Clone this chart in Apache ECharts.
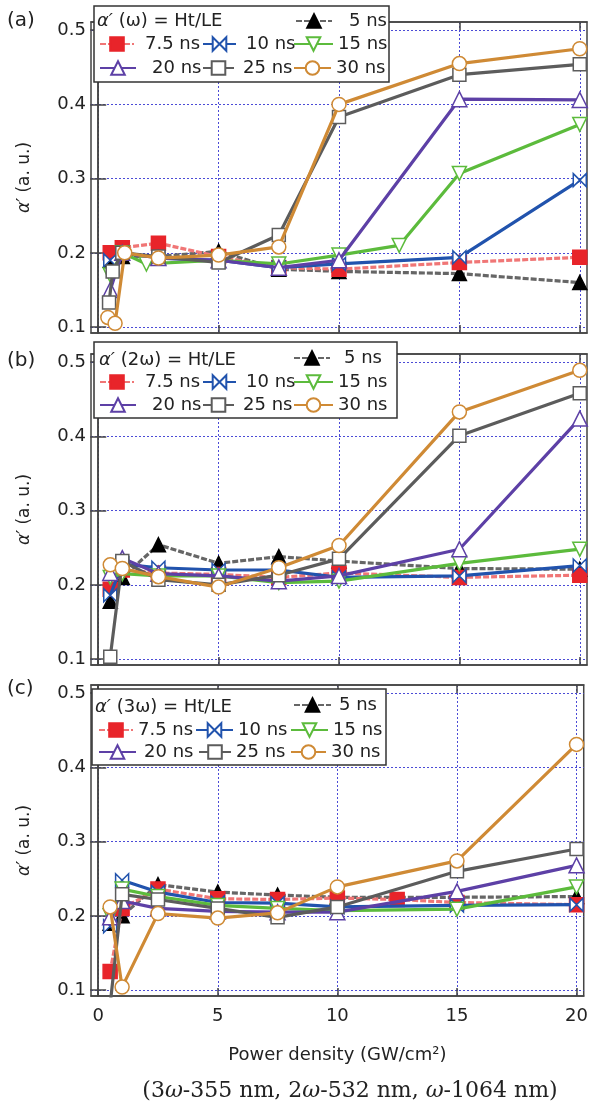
<!DOCTYPE html>
<html><head><meta charset="utf-8">
<script src="https://cdn.jsdelivr.net/npm/echarts@6/dist/echarts.min.js"></script>
<style>html,body{margin:0;padding:0;background:#fff}#c{width:591px;height:1105px}</style>
</head><body><div id="c"></div>
<script>
// ---------- data ----------
const seriesNames = ['5 ns','7.5 ns','10 ns','15 ns','20 ns','25 ns','30 ns'];
const xTicks = [0,5,10,15,20];
const yTicks = [0.1,0.2,0.3,0.4,0.5];
const panelLabels = ['(a)','(b)','(c)'];
const panelHarmonics = ['ω','2ω','3ω'];
const xName = 'Power density (GW/cm²)';
const caption = '(3{i|ω}-355 nm, 2{i|ω}-532 nm, {i|ω}-1064 nm)';

// panel (a)  alpha'(ω)
const a5  = [[0.5,0.19],[1,0.195],[2.5,0.195],[5,0.202],[7.5,0.178],[10,0.175],[15,0.172],[20,0.16]];
const a75 = [[0.5,0.2],[1,0.207],[2.5,0.213],[5,0.195],[7.5,0.18],[10,0.178],[15,0.187],[20,0.194]];
const a10 = [[0.5,0.19],[1,0.2],[2.5,0.193],[5,0.19],[7.5,0.18],[10,0.185],[15,0.194],[20,0.298]];
const a15 = [[0.5,0.17],[1,0.2],[2,0.185],[5,0.19],[7.5,0.185],[10,0.197],[12.5,0.21],[15,0.307],[20,0.373]];
const a20 = [[0.5,0.15],[1,0.2],[2.5,0.193],[5,0.19],[7.5,0.18],[10,0.19],[15,0.407],[20,0.406]];
const a25 = [[0.45,0.133],[0.6,0.175],[1,0.2],[2.5,0.195],[5,0.187],[7.5,0.224],[10,0.383],[15,0.44],[20,0.454]];
const a30 = [[0.4,0.113],[0.7,0.105],[1.1,0.2],[2.5,0.193],[5,0.197],[7.5,0.208],[10,0.4],[15,0.455],[20,0.475]];

// panel (b)  alpha'(2ω)
const b5  = [[0.5,0.178],[1,0.21],[2.5,0.254],[5,0.229],[7.5,0.238],[10,0.232],[15,0.222],[20,0.221]];
const b75 = [[0.5,0.194],[1,0.22],[2.5,0.216],[5,0.214],[7.5,0.21],[10,0.216],[15,0.21],[20,0.213]];
const b10 = [[0.5,0.186],[1,0.228],[2.5,0.223],[5,0.22],[7.5,0.22],[10,0.21],[15,0.212],[20,0.226]];
const b15 = [[0.5,0.21],[1,0.215],[2.5,0.212],[5,0.212],[7.5,0.203],[10,0.205],[15,0.229],[20,0.248]];
const b20 = [[0.5,0.216],[1,0.236],[2.5,0.215],[5,0.212],[7.5,0.205],[10,0.212],[15,0.248],[20,0.424]];
const b25 = [[0.5,0.103],[1,0.232],[2.5,0.207],[5,0.2],[7.5,0.213],[10,0.235],[15,0.401],[20,0.458]];
const b30 = [[0.5,0.227],[1,0.222],[2.5,0.211],[5,0.197],[7.5,0.223],[10,0.253],[15,0.433],[20,0.489]];

// panel (c)  alpha'(3ω)
const c5  = [[0.5,0.19],[1,0.2],[2.5,0.242],[5,0.232],[7.5,0.228],[10,0.225],[15,0.225],[20,0.226]];
const c75 = [[0.5,0.125],[1,0.21],[2.5,0.236],[5,0.223],[7.5,0.222],[10,0.224],[12.5,0.222],[15,0.218],[20,0.215]];
const c10 = [[0.5,0.186],[1,0.248],[2.5,0.232],[5,0.218],[7.5,0.217],[10,0.212],[15,0.214],[20,0.215]];
const c15 = [[0.5,0.2],[1,0.236],[2.5,0.226],[5,0.214],[7.5,0.21],[10,0.207],[15,0.209],[20,0.239]];
const c20 = [[0.5,0.198],[1,0.22],[2.5,0.21],[5,0.206],[7.5,0.205],[10,0.205],[15,0.233],[20,0.268]];
const c25 = [[0.5,0.08],[1,0.229],[2.5,0.222],[5,0.21],[7.5,0.198],[10,0.212],[15,0.26],[20,0.29]];
const c30 = [[0.5,0.212],[1,0.104],[2.5,0.203],[5,0.197],[7.5,0.204],[10,0.239],[15,0.274],[20,0.431]];

// ---------- styles / layout ----------
const FONT = 'DejaVu Sans';
const bowtie = 'path://M0,0L5,5L0,10Z M10,0L5,5L10,10Z';
const styles = [
  {line:'#666666', dash:[6,2], symbol:'triangle', fill:'#000', border:'#000', size:14},
  {line:'#f07676', dash:[6,2], symbol:'rect', fill:'#e8242a', border:'#e8242a', size:14},
  {line:'#2153ad', symbol:bowtie, fill:'#fff', border:'#2153ad', size:13},
  {line:'#5cbb3c', symbol:'triangle', rotate:180, fill:'#fff', border:'#5cbb3c', size:14},
  {line:'#5d40a6', symbol:'triangle', fill:'#fff', border:'#5d40a6', size:15},
  {line:'#5c5c5c', symbol:'rect', fill:'#fff', border:'#5c5c5c', size:13},
  {line:'#cf8a35', symbol:'circle', fill:'#fff', border:'#cf8a35', size:14}
];
const panels = [
  {top:22,  data:[a5,a75,a10,a15,a20,a25,a30], showX:false,
   box:[94,6,295,76], head:[97,21], label:21,
   leg:[[295,36,348,21],[99,34,144,44],[202,33,245,44],[293,39,335,44],[99,36,151,68],[202,31,242,68],[293,37,335,68]]},
  {top:354, data:[b5,b75,b10,b15,b20,b25,b30], showX:false,
   box:[94,342,303,76], head:[99,360], label:361,
   leg:[[293,36,343,358],[99,34,144,382],[202,33,245,382],[293,39,337,382],[99,36,151,405],[202,31,242,405],[293,39,336,405]]},
  {top:685, data:[c5,c75,c10,c15,c20,c25,c30], showX:true,
   box:[92,689,294,76], head:[95,707], label:689,
   leg:[[293,37,338,705],[98,34,135,730],[195,37,235,730],[290,37,329,730],[98,37,143,752],[198,32,235,752],[290,35,328,752]]}
];
const GL = 91, GW = 496, GH = 311, XMIN = -0.3, XMAX = 20.3, YMIN = 0.092, YMAX = 0.511;
const frame = '#444';
const gridLine = {show:true, lineStyle:{color:'#4b4bd6', type:[2,2], width:1}};

const grid = [], xAxis = [], yAxis = [], series = [], legend = [], graphic = [];
panels.forEach((p, i) => {
  grid.push({left:GL, top:p.top, width:GW, height:GH, show:true, borderColor:frame, borderWidth:1.5, backgroundColor:'#fff'});
  const tick = {show:true, inside:true, length:8, lineStyle:{color:frame, width:1.5}};
  xAxis.push({type:'value', gridIndex:i, min:XMIN, max:XMAX, position:'bottom',
    axisLine:{show:true, lineStyle:{color:frame, width:1.5}},
    axisTick:Object.assign({customValues:xTicks}, tick),
    axisLabel:{show:p.showX, customValues:xTicks, margin:11, fontSize:18, fontFamily:FONT, color:'#222'},
    splitLine:gridLine,
    name:p.showX ? xName : '', nameLocation:'middle', nameGap:50,
    nameTextStyle:{fontSize:18, fontFamily:FONT, color:'#222'}});
  xAxis.push({type:'value', gridIndex:i, min:XMIN, max:XMAX, position:'top',
    axisLine:{show:true, lineStyle:{color:frame, width:1.5}},
    axisTick:Object.assign({customValues:xTicks}, tick),
    axisLabel:{show:false}, splitLine:{show:false}});
  yAxis.push({type:'value', gridIndex:i, min:YMIN, max:YMAX, position:'left',
    axisLine:{show:true, lineStyle:{color:frame, width:1.5}},
    axisTick:Object.assign({customValues:yTicks}, tick),
    axisLabel:{customValues:yTicks, margin:5, fontSize:18, fontFamily:FONT, color:'#222'},
    splitLine:gridLine,
    name:'{i|α′} (a. u.)', nameLocation:'middle', nameGap:58,
    nameTextStyle:{fontSize:17, fontFamily:FONT, color:'#222',
      rich:{i:{fontStyle:'italic', fontSize:17, fontFamily:FONT, color:'#222'}}}});
  yAxis.push({type:'value', gridIndex:i, min:YMIN, max:YMAX, position:'right',
    axisLine:{show:true, lineStyle:{color:frame, width:1.5}},
    axisTick:Object.assign({customValues:yTicks}, tick),
    axisLabel:{show:false}, splitLine:{show:false}});
  p.data.forEach((d, k) => {
    const s = styles[k];
    series.push({type:'line', name:seriesNames[k], xAxisIndex:2*i, yAxisIndex:2*i, data:d,
      symbol:s.symbol, symbolSize:s.size, symbolRotate:s.rotate || 0,
      itemStyle:{color:s.fill, borderColor:s.border, borderWidth:1.5},
      lineStyle:{color:s.line, width:3.2, type:s.dash || 'solid'},
      z:2 + k, animation:false});
    const L = p.leg[k];
    legend.push({data:[seriesNames[k]], left:L[0], top:L[3]-9, itemWidth:L[1], itemHeight:17,
      padding:0, selectedMode:false, z:20,
      textStyle:{fontSize:18, fontFamily:FONT, color:'#222', padding:[0,0,0,Math.max(0, L[2]-L[0]-L[1]-5)]}});
  });
  graphic.push({type:'rect', z:12, shape:{x:p.box[0], y:p.box[1], width:p.box[2], height:p.box[3]},
    style:{fill:'#fff', stroke:'#333', lineWidth:1.5}});
  graphic.push({type:'text', z:21, x:p.head[0], y:p.head[1],
    style:{text:'{i|α′} (' + panelHarmonics[i] + ') = Ht/LE', fontSize:18, fontFamily:FONT, fill:'#222',
      verticalAlign:'middle', rich:{i:{fontStyle:'italic', fontSize:18, fontFamily:FONT, fill:'#222'}}}});
  graphic.push({type:'text', z:21, x:7, y:p.label,
    style:{text:panelLabels[i], fontSize:20, fontFamily:FONT, fill:'#222', verticalAlign:'middle'}});
});
graphic.push({type:'text', z:21, x:350, y:1091,
  style:{text:caption, fontSize:22, fontFamily:'DejaVu Serif', fill:'#222', align:'center', verticalAlign:'middle',
    rich:{i:{fontStyle:'italic', fontSize:22, fontFamily:'DejaVu Serif', fill:'#222'}}}});

const chart = echarts.init(document.getElementById('c'), null, {renderer:'canvas'});
chart.setOption({animation:false, backgroundColor:'#fff', grid, xAxis, yAxis, series, legend, graphic});
</script></body></html>
